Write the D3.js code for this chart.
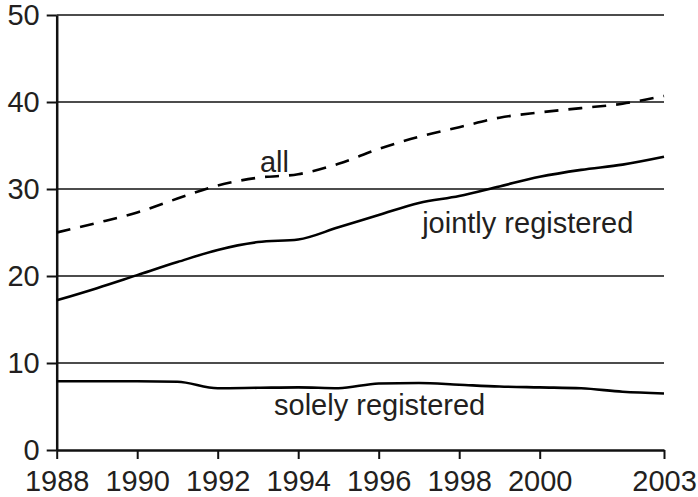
<!DOCTYPE html>
<html>
<head>
<meta charset="utf-8">
<script src="https://cdn.jsdelivr.net/npm/d3@7"></script>
<style>
html,body{margin:0;padding:0;background:#fff;}
svg{display:block;}
text{font-family:"Liberation Sans",Arial,Helvetica,sans-serif;fill:#231f20;}
</style>
</head>
<body>
<svg id="chart" width="698" height="497"></svg>
<script>
const years = [1988,1989,1990,1991,1992,1993,1994,1995,1996,1997,1998,1999,2000,2001,2002,2003];
const allValues = [25.0,26.1,27.3,28.9,30.4,31.3,31.7,32.9,34.6,36.0,37.1,38.2,38.8,39.3,39.8,40.7];
const jointlyValues = [17.2,18.6,20.1,21.6,23.0,23.9,24.2,25.6,27.0,28.4,29.2,30.3,31.4,32.2,32.8,33.7];
const solelyValues = [7.9,7.9,7.9,7.85,7.1,7.15,7.2,7.1,7.65,7.7,7.5,7.3,7.2,7.1,6.7,6.5];
const xTickValues = [1988,1990,1992,1994,1996,1998,2000,2003];
const yTickValues = [0,10,20,30,40,50];
const seriesLabels = [
  {text:"all", year:1993.05, value:32.0},
  {text:"jointly registered", year:1997.08, value:25.0},
  {text:"solely registered", year:1993.4, value:4.0}
];

const svg = d3.select("#chart");
const x = d3.scaleLinear().domain([1988,2000,2003]).range([56.7,539.7,664]);
const y = d3.scaleLinear().domain([0,50]).range([450,15]);
const FS = 29;

// gridlines
svg.append("g").selectAll("line").data(yTickValues.filter(d=>d>0)).join("line")
  .attr("x1", x(1988)).attr("x2", x(2003))
  .attr("y1", d=>y(d)).attr("y2", d=>y(d))
  .attr("stroke","#111").attr("stroke-width",1.3);

// y axis
const yAxis = svg.append("g").attr("transform",`translate(${x(1988)},0)`)
  .call(d3.axisLeft(y).tickValues(yTickValues).tickSize(10).tickPadding(7).tickSizeOuter(0));
yAxis.select(".domain").attr("stroke","#111").attr("stroke-width",2.5);
yAxis.selectAll(".tick line").attr("stroke","#111").attr("stroke-width",2);
yAxis.selectAll("text").attr("font-size",FS).attr("fill","#231f20")
  .attr("font-family",'"Liberation Sans",Arial,sans-serif');

// x axis
const xAxis = svg.append("g").attr("transform",`translate(0,${y(0)})`)
  .call(d3.axisBottom(x).tickValues(xTickValues).tickFormat(d3.format("d")).tickSize(9).tickPadding(11).tickSizeOuter(0));
xAxis.select(".domain").attr("stroke","#111").attr("stroke-width",2.5);
xAxis.selectAll(".tick line").attr("stroke","#111").attr("stroke-width",2);
xAxis.selectAll("text").attr("font-size",FS).attr("fill","#231f20")
  .attr("font-family",'"Liberation Sans",Arial,sans-serif');

const line = d3.line().x((d,i)=>x(years[i])).y(d=>y(d)).curve(d3.curveMonotoneX);

svg.append("path").datum(allValues).attr("d",line)
  .attr("fill","none").attr("stroke","#000").attr("stroke-width",2.6)
  .attr("stroke-dasharray","14,10");
svg.append("path").datum(jointlyValues).attr("d",line)
  .attr("fill","none").attr("stroke","#000").attr("stroke-width",2.6);
svg.append("path").datum(solelyValues).attr("d",line)
  .attr("fill","none").attr("stroke","#000").attr("stroke-width",2.6);

svg.append("g").selectAll("text").data(seriesLabels).join("text")
  .attr("x", d=>x(d.year)).attr("y", d=>y(d.value))
  .attr("font-size",FS).text(d=>d.text);
</script>
</body>
</html>
